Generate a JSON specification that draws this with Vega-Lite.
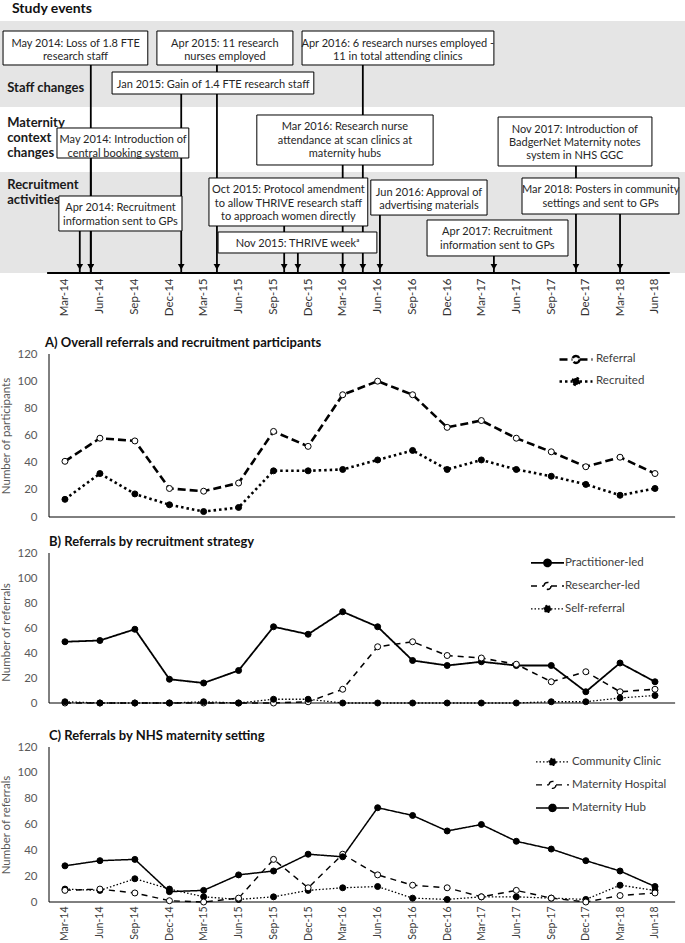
{
  "$schema": "https://vega.github.io/schema/vega-lite/v6.json",
  "padding": {"top": 2, "left": 0, "right": 0, "bottom": 0},
  "background": "white",
  "spacing": 36,
  "bounds": "flush",
  "config": {
    "view": {"stroke": null},
    "font": "Lato",
    "axis": {"grid": false},
    "mark": {"color": "black"}
  },
  "resolve": {
    "scale": {"x": "independent", "y": "independent", "fill": "independent", "strokeDash": "independent", "strokeWidth": "independent"},
    "legend": {"fill": "independent", "strokeDash": "independent"}
  },
  "datasets": {
    "lanes": [
      {"lane": "staff", "label": "Staff changes", "top": 0, "bottom": 34.13, "ly": 26.6},
      {"lane": "maternity", "label": "Maternity\ncontext\nchanges", "top": 34.13, "bottom": 59.92, "ly": 40.5},
      {"lane": "recruitment", "label": "Recruitment\nactivities", "top": 59.92, "bottom": 100, "ly": 65.1}
    ],
    "events": [
      {"label": "May 2014: Loss of 1.8 FTE\nresearch staff", "x1": "2013-09-19", "x2": "2014-10-05", "xm": "2014-03-29", "y1": 3.97, "y2": 17.46, "ym": 10.7, "arrow": "2014-05-08"},
      {"label": "Apr 2015: 11 research\nnurses employed", "x1": "2014-10-29", "x2": "2015-10-22", "xm": "2015-04-26", "y1": 3.97, "y2": 17.46, "ym": 10.7, "arrow": "2015-04-05"},
      {"label": "Apr 2016: 6 research nurses employed -\n11 in total attending clinics", "x1": "2015-11-15", "x2": "2017-04-03", "xm": "2016-07-24", "y1": 3.97, "y2": 17.46, "ym": 10.7, "arrow": "2016-04-23"},
      {"label": "Jan 2015: Gain of 1.4 FTE research staff", "x1": "2014-07-03", "x2": "2015-12-16", "xm": "2015-03-26", "y1": 20.24, "y2": 28.97, "ym": 24.6, "arrow": "2015-01-01"},
      {"label": "May 2014: Introduction of\ncentral booking system", "x1": "2014-02-08", "x2": "2015-01-21", "xm": "2014-08-01", "y1": 42.46, "y2": 54.37, "ym": 48.4, "arrow": "2014-05-08"},
      {"label": "Mar 2016: Research nurse\nattendance at scan clinics at\nmaternity hubs", "x1": "2015-07-19", "x2": "2016-10-25", "xm": "2016-03-07", "y1": 37.3, "y2": 57.14, "ym": 47.2, "arrow": "2016-03-01"},
      {"label": "Nov 2017: Introduction of\nBadgerNet Maternity notes\nsystem in NHS GGC", "x1": "2017-04-14", "x2": "2018-05-24", "xm": "2017-11-02", "y1": 38.1, "y2": 57.54, "ym": 47.8, "arrow": "2017-11-05"},
      {"label": "Apr 2014: Recruitment\ninformation sent to GPs", "x1": "2014-02-13", "x2": "2015-01-03", "xm": "2014-07-25", "y1": 69.44, "y2": 83.33, "ym": 76.4, "arrow": "2014-04-09"},
      {"label": "Oct 2015: Protocol amendment\nto allow THRIVE research staff\nto approach women directly", "x1": "2015-03-15", "x2": "2016-05-06", "xm": "2015-10-10", "y1": 62.3, "y2": 81.35, "ym": 71.8, "arrow": "2015-09-29"},
      {"label": "Nov 2015: THRIVE weekᵃ", "x1": "2015-04-08", "x2": "2016-05-30", "xm": "2015-11-03", "y1": 83.73, "y2": 92.06, "ym": 87.9, "arrow": "2015-11-04"},
      {"label": "Jun 2016: Approval of\nadvertising materials", "x1": "2016-05-14", "x2": "2017-03-16", "xm": "2016-10-14", "y1": 63.1, "y2": 77.0, "ym": 70.0, "arrow": "2016-06-07"},
      {"label": "Apr 2017: Recruitment\ninformation sent to GPs", "x1": "2016-10-09", "x2": "2017-10-15", "xm": "2017-04-12", "y1": 78.97, "y2": 93.25, "ym": 86.1, "arrow": "2017-04-03"},
      {"label": "Mar 2018: Posters in community\nsettings and sent to GPs", "x1": "2017-06-16", "x2": "2018-08-03", "xm": "2018-01-09", "y1": 62.3, "y2": 76.59, "ym": 69.4, "arrow": "2018-03-01"}
    ],
    "overall": [
      {"date": "2014-03-01", "series": "Referral", "value": 41}, {"date": "2014-06-01", "series": "Referral", "value": 58}, {"date": "2014-09-01", "series": "Referral", "value": 56}, {"date": "2014-12-01", "series": "Referral", "value": 21}, {"date": "2015-03-01", "series": "Referral", "value": 19}, {"date": "2015-06-01", "series": "Referral", "value": 25}, {"date": "2015-09-01", "series": "Referral", "value": 63}, {"date": "2015-12-01", "series": "Referral", "value": 52}, {"date": "2016-03-01", "series": "Referral", "value": 90}, {"date": "2016-06-01", "series": "Referral", "value": 100}, {"date": "2016-09-01", "series": "Referral", "value": 90}, {"date": "2016-12-01", "series": "Referral", "value": 66}, {"date": "2017-03-01", "series": "Referral", "value": 71}, {"date": "2017-06-01", "series": "Referral", "value": 58}, {"date": "2017-09-01", "series": "Referral", "value": 48}, {"date": "2017-12-01", "series": "Referral", "value": 37}, {"date": "2018-03-01", "series": "Referral", "value": 44}, {"date": "2018-06-01", "series": "Referral", "value": 32},
      {"date": "2014-03-01", "series": "Recruited", "value": 13}, {"date": "2014-06-01", "series": "Recruited", "value": 32}, {"date": "2014-09-01", "series": "Recruited", "value": 17}, {"date": "2014-12-01", "series": "Recruited", "value": 9}, {"date": "2015-03-01", "series": "Recruited", "value": 4}, {"date": "2015-06-01", "series": "Recruited", "value": 7}, {"date": "2015-09-01", "series": "Recruited", "value": 34}, {"date": "2015-12-01", "series": "Recruited", "value": 34}, {"date": "2016-03-01", "series": "Recruited", "value": 35}, {"date": "2016-06-01", "series": "Recruited", "value": 42}, {"date": "2016-09-01", "series": "Recruited", "value": 49}, {"date": "2016-12-01", "series": "Recruited", "value": 35}, {"date": "2017-03-01", "series": "Recruited", "value": 42}, {"date": "2017-06-01", "series": "Recruited", "value": 35}, {"date": "2017-09-01", "series": "Recruited", "value": 30}, {"date": "2017-12-01", "series": "Recruited", "value": 24}, {"date": "2018-03-01", "series": "Recruited", "value": 16}, {"date": "2018-06-01", "series": "Recruited", "value": 21}
    ],
    "strategy": [
      {"date": "2014-03-01", "series": "Practitioner-led", "value": 49}, {"date": "2014-06-01", "series": "Practitioner-led", "value": 50}, {"date": "2014-09-01", "series": "Practitioner-led", "value": 59}, {"date": "2014-12-01", "series": "Practitioner-led", "value": 19}, {"date": "2015-03-01", "series": "Practitioner-led", "value": 16}, {"date": "2015-06-01", "series": "Practitioner-led", "value": 26}, {"date": "2015-09-01", "series": "Practitioner-led", "value": 61}, {"date": "2015-12-01", "series": "Practitioner-led", "value": 55}, {"date": "2016-03-01", "series": "Practitioner-led", "value": 73}, {"date": "2016-06-01", "series": "Practitioner-led", "value": 61}, {"date": "2016-09-01", "series": "Practitioner-led", "value": 34}, {"date": "2016-12-01", "series": "Practitioner-led", "value": 30}, {"date": "2017-03-01", "series": "Practitioner-led", "value": 33}, {"date": "2017-06-01", "series": "Practitioner-led", "value": 30}, {"date": "2017-09-01", "series": "Practitioner-led", "value": 30}, {"date": "2017-12-01", "series": "Practitioner-led", "value": 9}, {"date": "2018-03-01", "series": "Practitioner-led", "value": 32}, {"date": "2018-06-01", "series": "Practitioner-led", "value": 17},
      {"date": "2014-03-01", "series": "Researcher-led", "value": 0}, {"date": "2014-06-01", "series": "Researcher-led", "value": 0}, {"date": "2014-09-01", "series": "Researcher-led", "value": 0}, {"date": "2014-12-01", "series": "Researcher-led", "value": 0}, {"date": "2015-03-01", "series": "Researcher-led", "value": 0}, {"date": "2015-06-01", "series": "Researcher-led", "value": 0}, {"date": "2015-09-01", "series": "Researcher-led", "value": 0}, {"date": "2015-12-01", "series": "Researcher-led", "value": 1}, {"date": "2016-03-01", "series": "Researcher-led", "value": 11}, {"date": "2016-06-01", "series": "Researcher-led", "value": 45}, {"date": "2016-09-01", "series": "Researcher-led", "value": 49}, {"date": "2016-12-01", "series": "Researcher-led", "value": 38}, {"date": "2017-03-01", "series": "Researcher-led", "value": 36}, {"date": "2017-06-01", "series": "Researcher-led", "value": 31}, {"date": "2017-09-01", "series": "Researcher-led", "value": 17}, {"date": "2017-12-01", "series": "Researcher-led", "value": 25}, {"date": "2018-03-01", "series": "Researcher-led", "value": 9}, {"date": "2018-06-01", "series": "Researcher-led", "value": 11},
      {"date": "2014-03-01", "series": "Self-referral", "value": 1}, {"date": "2014-06-01", "series": "Self-referral", "value": 0}, {"date": "2014-09-01", "series": "Self-referral", "value": 0}, {"date": "2014-12-01", "series": "Self-referral", "value": 0}, {"date": "2015-03-01", "series": "Self-referral", "value": 1}, {"date": "2015-06-01", "series": "Self-referral", "value": 0}, {"date": "2015-09-01", "series": "Self-referral", "value": 3}, {"date": "2015-12-01", "series": "Self-referral", "value": 3}, {"date": "2016-03-01", "series": "Self-referral", "value": 0}, {"date": "2016-06-01", "series": "Self-referral", "value": 0}, {"date": "2016-09-01", "series": "Self-referral", "value": 0}, {"date": "2016-12-01", "series": "Self-referral", "value": 0}, {"date": "2017-03-01", "series": "Self-referral", "value": 0}, {"date": "2017-06-01", "series": "Self-referral", "value": 0}, {"date": "2017-09-01", "series": "Self-referral", "value": 1}, {"date": "2017-12-01", "series": "Self-referral", "value": 1}, {"date": "2018-03-01", "series": "Self-referral", "value": 4}, {"date": "2018-06-01", "series": "Self-referral", "value": 6}
    ],
    "setting": [
      {"date": "2014-03-01", "series": "Community Clinic", "value": 10}, {"date": "2014-06-01", "series": "Community Clinic", "value": 9}, {"date": "2014-09-01", "series": "Community Clinic", "value": 18}, {"date": "2014-12-01", "series": "Community Clinic", "value": 10}, {"date": "2015-03-01", "series": "Community Clinic", "value": 4}, {"date": "2015-06-01", "series": "Community Clinic", "value": 2}, {"date": "2015-09-01", "series": "Community Clinic", "value": 4}, {"date": "2015-12-01", "series": "Community Clinic", "value": 9}, {"date": "2016-03-01", "series": "Community Clinic", "value": 11}, {"date": "2016-06-01", "series": "Community Clinic", "value": 12}, {"date": "2016-09-01", "series": "Community Clinic", "value": 3}, {"date": "2016-12-01", "series": "Community Clinic", "value": 2}, {"date": "2017-03-01", "series": "Community Clinic", "value": 4}, {"date": "2017-06-01", "series": "Community Clinic", "value": 4}, {"date": "2017-09-01", "series": "Community Clinic", "value": 3}, {"date": "2017-12-01", "series": "Community Clinic", "value": 2}, {"date": "2018-03-01", "series": "Community Clinic", "value": 13}, {"date": "2018-06-01", "series": "Community Clinic", "value": 9},
      {"date": "2014-03-01", "series": "Maternity Hospital", "value": 9}, {"date": "2014-06-01", "series": "Maternity Hospital", "value": 10}, {"date": "2014-09-01", "series": "Maternity Hospital", "value": 7}, {"date": "2014-12-01", "series": "Maternity Hospital", "value": 1}, {"date": "2015-03-01", "series": "Maternity Hospital", "value": 0}, {"date": "2015-06-01", "series": "Maternity Hospital", "value": 3}, {"date": "2015-09-01", "series": "Maternity Hospital", "value": 33}, {"date": "2015-12-01", "series": "Maternity Hospital", "value": 11}, {"date": "2016-03-01", "series": "Maternity Hospital", "value": 37}, {"date": "2016-06-01", "series": "Maternity Hospital", "value": 21}, {"date": "2016-09-01", "series": "Maternity Hospital", "value": 13}, {"date": "2016-12-01", "series": "Maternity Hospital", "value": 11}, {"date": "2017-03-01", "series": "Maternity Hospital", "value": 4}, {"date": "2017-06-01", "series": "Maternity Hospital", "value": 9}, {"date": "2017-09-01", "series": "Maternity Hospital", "value": 3}, {"date": "2017-12-01", "series": "Maternity Hospital", "value": 0}, {"date": "2018-03-01", "series": "Maternity Hospital", "value": 5}, {"date": "2018-06-01", "series": "Maternity Hospital", "value": 7},
      {"date": "2014-03-01", "series": "Maternity Hub", "value": 28}, {"date": "2014-06-01", "series": "Maternity Hub", "value": 32}, {"date": "2014-09-01", "series": "Maternity Hub", "value": 33}, {"date": "2014-12-01", "series": "Maternity Hub", "value": 8}, {"date": "2015-03-01", "series": "Maternity Hub", "value": 9}, {"date": "2015-06-01", "series": "Maternity Hub", "value": 21}, {"date": "2015-09-01", "series": "Maternity Hub", "value": 24}, {"date": "2015-12-01", "series": "Maternity Hub", "value": 37}, {"date": "2016-03-01", "series": "Maternity Hub", "value": 35}, {"date": "2016-06-01", "series": "Maternity Hub", "value": 73}, {"date": "2016-09-01", "series": "Maternity Hub", "value": 67}, {"date": "2016-12-01", "series": "Maternity Hub", "value": 55}, {"date": "2017-03-01", "series": "Maternity Hub", "value": 60}, {"date": "2017-06-01", "series": "Maternity Hub", "value": 47}, {"date": "2017-09-01", "series": "Maternity Hub", "value": 41}, {"date": "2017-12-01", "series": "Maternity Hub", "value": 32}, {"date": "2018-03-01", "series": "Maternity Hub", "value": 24}, {"date": "2018-06-01", "series": "Maternity Hub", "value": 12}
    ]
  },
  "vconcat": [
    {
      "width": 685,
      "height": 297,
      "title": {"text": "Study events", "anchor": "start", "frame": "group", "dx": 12, "offset": 5, "fontSize": 14, "fontWeight": "bold", "font": "Lato", "color": "#111111"},
      "layer": [
        {
          "data": {"name": "lanes"},
          "mark": {"type": "rect"},
          "encoding": {
            "x": {"value": 0},
            "x2": {"value": "width"},
            "y": {"field": "top", "type": "quantitative", "scale": {"domain": [0, 117.86], "reverse": true, "nice": false, "zero": false}, "axis": null},
            "y2": {"field": "bottom"},
            "fill": {"field": "lane", "type": "nominal", "scale": {"domain": ["staff", "maternity", "recruitment"], "range": ["#e5e5e5", "#ffffff", "#e5e5e5"]}, "legend": null}
          }
        },
        {
          "data": {"name": "lanes"},
          "mark": {"type": "text", "align": "left", "baseline": "middle", "font": "Lato", "fontWeight": "bold", "fontSize": 13, "lineBreak": "\n", "lineHeight": 15, "color": "#1a1a1a"},
          "encoding": {
            "x": {"datum": {"year": 2013, "month": 9, "date": 30, "utc": true}, "type": "temporal", "scale": {"type": "utc", "domain": [{"year": 2013, "month": 9, "date": 11, "utc": true}, {"year": 2018, "month": 8, "date": 19, "utc": true}], "nice": false},
              "axis": {"values": [{"year": 2014, "month": 3, "date": 1, "utc": true}, {"year": 2014, "month": 6, "date": 1, "utc": true}, {"year": 2014, "month": 9, "date": 1, "utc": true}, {"year": 2014, "month": 12, "date": 1, "utc": true}, {"year": 2015, "month": 3, "date": 1, "utc": true}, {"year": 2015, "month": 6, "date": 1, "utc": true}, {"year": 2015, "month": 9, "date": 1, "utc": true}, {"year": 2015, "month": 12, "date": 1, "utc": true}, {"year": 2016, "month": 3, "date": 1, "utc": true}, {"year": 2016, "month": 6, "date": 1, "utc": true}, {"year": 2016, "month": 9, "date": 1, "utc": true}, {"year": 2016, "month": 12, "date": 1, "utc": true}, {"year": 2017, "month": 3, "date": 1, "utc": true}, {"year": 2017, "month": 6, "date": 1, "utc": true}, {"year": 2017, "month": 9, "date": 1, "utc": true}, {"year": 2017, "month": 12, "date": 1, "utc": true}, {"year": 2018, "month": 3, "date": 1, "utc": true}, {"year": 2018, "month": 6, "date": 1, "utc": true}], "labelExpr": "utcFormat(datum.value, '%b-%y')", "orient": "bottom", "offset": -45, "labelAngle": 270, "labelPadding": 5, "domain": false, "ticks": false, "grid": false, "title": null, "labelFont": "Lato", "labelFontSize": 11.5, "labelColor": "#333333", "labelFlush": false, "labelOverlap": false}},
            "y": {"field": "ly", "type": "quantitative", "scale": {"domain": [0, 117.86], "reverse": true, "nice": false, "zero": false}, "axis": null},
            "text": {"field": "label"}
          }
        },
        {
          "data": {"values": [{}]},
          "mark": {"type": "rule", "color": "black", "strokeWidth": 2},
          "encoding": {
            "x": {"datum": {"year": 2014, "month": 1, "date": 13, "utc": true}, "type": "temporal", "scale": {"type": "utc", "domain": [{"year": 2013, "month": 9, "date": 11, "utc": true}, {"year": 2018, "month": 8, "date": 19, "utc": true}], "nice": false},
              "axis": {"values": [{"year": 2014, "month": 3, "date": 1, "utc": true}, {"year": 2014, "month": 6, "date": 1, "utc": true}, {"year": 2014, "month": 9, "date": 1, "utc": true}, {"year": 2014, "month": 12, "date": 1, "utc": true}, {"year": 2015, "month": 3, "date": 1, "utc": true}, {"year": 2015, "month": 6, "date": 1, "utc": true}, {"year": 2015, "month": 9, "date": 1, "utc": true}, {"year": 2015, "month": 12, "date": 1, "utc": true}, {"year": 2016, "month": 3, "date": 1, "utc": true}, {"year": 2016, "month": 6, "date": 1, "utc": true}, {"year": 2016, "month": 9, "date": 1, "utc": true}, {"year": 2016, "month": 12, "date": 1, "utc": true}, {"year": 2017, "month": 3, "date": 1, "utc": true}, {"year": 2017, "month": 6, "date": 1, "utc": true}, {"year": 2017, "month": 9, "date": 1, "utc": true}, {"year": 2017, "month": 12, "date": 1, "utc": true}, {"year": 2018, "month": 3, "date": 1, "utc": true}, {"year": 2018, "month": 6, "date": 1, "utc": true}], "labelExpr": "utcFormat(datum.value, '%b-%y')", "orient": "bottom", "offset": -45, "labelAngle": 270, "labelPadding": 5, "domain": false, "ticks": false, "grid": false, "title": null, "labelFont": "Lato", "labelFontSize": 11.5, "labelColor": "#333333", "labelFlush": false, "labelOverlap": false}},
            "x2": {"datum": {"year": 2018, "month": 7, "date": 10, "utc": true}},
            "y": {"datum": 100, "type": "quantitative", "scale": {"domain": [0, 117.86], "reverse": true, "nice": false, "zero": false}, "axis": null}
          }
        },
        {
          "data": {"name": "events", "format": {"parse": {"x1": "date", "x2": "date", "xm": "date", "arrow": "date"}}},
          "mark": {"type": "rule", "color": "black", "strokeWidth": 1.8},
          "encoding": {
            "x": {"field": "arrow", "type": "temporal", "scale": {"type": "utc", "domain": [{"year": 2013, "month": 9, "date": 11, "utc": true}, {"year": 2018, "month": 8, "date": 19, "utc": true}], "nice": false},
              "axis": {"values": [{"year": 2014, "month": 3, "date": 1, "utc": true}, {"year": 2014, "month": 6, "date": 1, "utc": true}, {"year": 2014, "month": 9, "date": 1, "utc": true}, {"year": 2014, "month": 12, "date": 1, "utc": true}, {"year": 2015, "month": 3, "date": 1, "utc": true}, {"year": 2015, "month": 6, "date": 1, "utc": true}, {"year": 2015, "month": 9, "date": 1, "utc": true}, {"year": 2015, "month": 12, "date": 1, "utc": true}, {"year": 2016, "month": 3, "date": 1, "utc": true}, {"year": 2016, "month": 6, "date": 1, "utc": true}, {"year": 2016, "month": 9, "date": 1, "utc": true}, {"year": 2016, "month": 12, "date": 1, "utc": true}, {"year": 2017, "month": 3, "date": 1, "utc": true}, {"year": 2017, "month": 6, "date": 1, "utc": true}, {"year": 2017, "month": 9, "date": 1, "utc": true}, {"year": 2017, "month": 12, "date": 1, "utc": true}, {"year": 2018, "month": 3, "date": 1, "utc": true}, {"year": 2018, "month": 6, "date": 1, "utc": true}], "labelExpr": "utcFormat(datum.value, '%b-%y')", "orient": "bottom", "offset": -45, "labelAngle": 270, "labelPadding": 5, "domain": false, "ticks": false, "grid": false, "title": null, "labelFont": "Lato", "labelFontSize": 11.5, "labelColor": "#333333", "labelFlush": false, "labelOverlap": false}},
            "y": {"field": "ym", "type": "quantitative", "scale": {"domain": [0, 117.86], "reverse": true, "nice": false, "zero": false}, "axis": null},
            "y2": {"datum": 100}
          }
        },
        {
          "data": {"name": "events", "format": {"parse": {"x1": "date", "x2": "date", "xm": "date", "arrow": "date"}}},
          "mark": {"type": "point", "shape": "triangle-down", "filled": true, "color": "black", "size": 45, "opacity": 1},
          "encoding": {
            "x": {"field": "arrow", "type": "temporal", "scale": {"type": "utc", "domain": [{"year": 2013, "month": 9, "date": 11, "utc": true}, {"year": 2018, "month": 8, "date": 19, "utc": true}], "nice": false},
              "axis": {"values": [{"year": 2014, "month": 3, "date": 1, "utc": true}, {"year": 2014, "month": 6, "date": 1, "utc": true}, {"year": 2014, "month": 9, "date": 1, "utc": true}, {"year": 2014, "month": 12, "date": 1, "utc": true}, {"year": 2015, "month": 3, "date": 1, "utc": true}, {"year": 2015, "month": 6, "date": 1, "utc": true}, {"year": 2015, "month": 9, "date": 1, "utc": true}, {"year": 2015, "month": 12, "date": 1, "utc": true}, {"year": 2016, "month": 3, "date": 1, "utc": true}, {"year": 2016, "month": 6, "date": 1, "utc": true}, {"year": 2016, "month": 9, "date": 1, "utc": true}, {"year": 2016, "month": 12, "date": 1, "utc": true}, {"year": 2017, "month": 3, "date": 1, "utc": true}, {"year": 2017, "month": 6, "date": 1, "utc": true}, {"year": 2017, "month": 9, "date": 1, "utc": true}, {"year": 2017, "month": 12, "date": 1, "utc": true}, {"year": 2018, "month": 3, "date": 1, "utc": true}, {"year": 2018, "month": 6, "date": 1, "utc": true}], "labelExpr": "utcFormat(datum.value, '%b-%y')", "orient": "bottom", "offset": -45, "labelAngle": 270, "labelPadding": 5, "domain": false, "ticks": false, "grid": false, "title": null, "labelFont": "Lato", "labelFontSize": 11.5, "labelColor": "#333333", "labelFlush": false, "labelOverlap": false}},
            "y": {"datum": 97.6, "type": "quantitative", "scale": {"domain": [0, 117.86], "reverse": true, "nice": false, "zero": false}, "axis": null}
          }
        },
        {
          "data": {"name": "events", "format": {"parse": {"x1": "date", "x2": "date", "xm": "date", "arrow": "date"}}},
          "mark": {"type": "rect", "fill": "white", "stroke": "black", "strokeWidth": 1},
          "encoding": {
            "x": {"field": "x1", "type": "temporal", "scale": {"type": "utc", "domain": [{"year": 2013, "month": 9, "date": 11, "utc": true}, {"year": 2018, "month": 8, "date": 19, "utc": true}], "nice": false},
              "axis": {"values": [{"year": 2014, "month": 3, "date": 1, "utc": true}, {"year": 2014, "month": 6, "date": 1, "utc": true}, {"year": 2014, "month": 9, "date": 1, "utc": true}, {"year": 2014, "month": 12, "date": 1, "utc": true}, {"year": 2015, "month": 3, "date": 1, "utc": true}, {"year": 2015, "month": 6, "date": 1, "utc": true}, {"year": 2015, "month": 9, "date": 1, "utc": true}, {"year": 2015, "month": 12, "date": 1, "utc": true}, {"year": 2016, "month": 3, "date": 1, "utc": true}, {"year": 2016, "month": 6, "date": 1, "utc": true}, {"year": 2016, "month": 9, "date": 1, "utc": true}, {"year": 2016, "month": 12, "date": 1, "utc": true}, {"year": 2017, "month": 3, "date": 1, "utc": true}, {"year": 2017, "month": 6, "date": 1, "utc": true}, {"year": 2017, "month": 9, "date": 1, "utc": true}, {"year": 2017, "month": 12, "date": 1, "utc": true}, {"year": 2018, "month": 3, "date": 1, "utc": true}, {"year": 2018, "month": 6, "date": 1, "utc": true}], "labelExpr": "utcFormat(datum.value, '%b-%y')", "orient": "bottom", "offset": -45, "labelAngle": 270, "labelPadding": 5, "domain": false, "ticks": false, "grid": false, "title": null, "labelFont": "Lato", "labelFontSize": 11.5, "labelColor": "#333333", "labelFlush": false, "labelOverlap": false}},
            "x2": {"field": "x2"},
            "y": {"field": "y1", "type": "quantitative", "scale": {"domain": [0, 117.86], "reverse": true, "nice": false, "zero": false}, "axis": null},
            "y2": {"field": "y2"}
          }
        },
        {
          "data": {"name": "events", "format": {"parse": {"x1": "date", "x2": "date", "xm": "date", "arrow": "date"}}},
          "mark": {"type": "text", "align": "center", "baseline": "top", "dy": 6.5, "font": "Lato", "fontSize": 11, "lineBreak": "\n", "lineHeight": 13.3, "color": "#262626"},
          "encoding": {
            "x": {"field": "xm", "type": "temporal", "scale": {"type": "utc", "domain": [{"year": 2013, "month": 9, "date": 11, "utc": true}, {"year": 2018, "month": 8, "date": 19, "utc": true}], "nice": false},
              "axis": {"values": [{"year": 2014, "month": 3, "date": 1, "utc": true}, {"year": 2014, "month": 6, "date": 1, "utc": true}, {"year": 2014, "month": 9, "date": 1, "utc": true}, {"year": 2014, "month": 12, "date": 1, "utc": true}, {"year": 2015, "month": 3, "date": 1, "utc": true}, {"year": 2015, "month": 6, "date": 1, "utc": true}, {"year": 2015, "month": 9, "date": 1, "utc": true}, {"year": 2015, "month": 12, "date": 1, "utc": true}, {"year": 2016, "month": 3, "date": 1, "utc": true}, {"year": 2016, "month": 6, "date": 1, "utc": true}, {"year": 2016, "month": 9, "date": 1, "utc": true}, {"year": 2016, "month": 12, "date": 1, "utc": true}, {"year": 2017, "month": 3, "date": 1, "utc": true}, {"year": 2017, "month": 6, "date": 1, "utc": true}, {"year": 2017, "month": 9, "date": 1, "utc": true}, {"year": 2017, "month": 12, "date": 1, "utc": true}, {"year": 2018, "month": 3, "date": 1, "utc": true}, {"year": 2018, "month": 6, "date": 1, "utc": true}], "labelExpr": "utcFormat(datum.value, '%b-%y')", "orient": "bottom", "offset": -45, "labelAngle": 270, "labelPadding": 5, "domain": false, "ticks": false, "grid": false, "title": null, "labelFont": "Lato", "labelFontSize": 11.5, "labelColor": "#333333", "labelFlush": false, "labelOverlap": false}},
            "y": {"field": "y1", "type": "quantitative", "scale": {"domain": [0, 117.86], "reverse": true, "nice": false, "zero": false}, "axis": null},
            "text": {"field": "label"}
          }
        }
      ]
    },
    {
      "width": 685,
      "height": 163,
      "title": {"text": "A) Overall referrals and recruitment participants", "anchor": "start", "frame": "group", "dx": 45, "offset": -2, "fontSize": 13, "fontWeight": "bold", "font": "Lato", "color": "#111111"},
      "layer": [
        {
          "data": {"values": [{}]},
          "mark": {"type": "rule", "color": "black", "strokeWidth": 1},
          "encoding": {
            "x": {"datum": {"year": 2014, "month": 1, "date": 18, "utc": true}, "type": "temporal", "scale": {"type": "utc", "domain": [{"year": 2013, "month": 9, "date": 11, "utc": true}, {"year": 2018, "month": 8, "date": 19, "utc": true}], "nice": false}, "axis": null},
            "y": {"datum": 0, "type": "quantitative", "scale": {"domain": [0, 120], "nice": false, "zero": false},
              "axis": {"values": [0, 20, 40, 60, 80, 100, 120], "offset": -49, "domain": false, "ticks": false, "grid": false, "labelPadding": 12, "labelFont": "Lato", "labelFontSize": 11.5, "labelColor": "#595959", "labelFlush": false, "title": "Number of participants", "titleFont": "Lato", "titleFontSize": 11.5, "titleFontWeight": "normal", "titleColor": "#595959", "titlePadding": 5}},
            "y2": {"datum": 120}
          }
        },
        {
          "data": {"values": [{}]},
          "mark": {"type": "rule", "color": "black", "strokeWidth": 1},
          "encoding": {
            "x": {"datum": {"year": 2014, "month": 1, "date": 18, "utc": true}, "type": "temporal", "scale": {"type": "utc", "domain": [{"year": 2013, "month": 9, "date": 11, "utc": true}, {"year": 2018, "month": 8, "date": 19, "utc": true}], "nice": false}, "axis": null},
            "x2": {"datum": {"year": 2018, "month": 7, "date": 24, "utc": true}},
            "y": {"datum": 0, "type": "quantitative", "scale": {"domain": [0, 120], "nice": false, "zero": false},
              "axis": {"values": [0, 20, 40, 60, 80, 100, 120], "offset": -49, "domain": false, "ticks": false, "grid": false, "labelPadding": 12, "labelFont": "Lato", "labelFontSize": 11.5, "labelColor": "#595959", "labelFlush": false, "title": "Number of participants", "titleFont": "Lato", "titleFontSize": 11.5, "titleFontWeight": "normal", "titleColor": "#595959", "titlePadding": 5}}
          }
        },
        {
          "data": {"name": "overall", "format": {"parse": {"date": "date"}}},
          "mark": {"type": "line", "color": "black", "strokeWidth": 2.6},
          "encoding": {
            "x": {"field": "date", "type": "temporal", "scale": {"type": "utc", "domain": [{"year": 2013, "month": 9, "date": 11, "utc": true}, {"year": 2018, "month": 8, "date": 19, "utc": true}], "nice": false}, "axis": null},
            "y": {"field": "value", "type": "quantitative", "scale": {"domain": [0, 120], "nice": false, "zero": false},
              "axis": {"values": [0, 20, 40, 60, 80, 100, 120], "offset": -49, "domain": false, "ticks": false, "grid": false, "labelPadding": 12, "labelFont": "Lato", "labelFontSize": 11.5, "labelColor": "#595959", "labelFlush": false, "title": "Number of participants", "titleFont": "Lato", "titleFontSize": 11.5, "titleFontWeight": "normal", "titleColor": "#595959", "titlePadding": 5}},
            "strokeDash": {"field": "series", "type": "nominal", "scale": {"domain": ["Referral", "Recruited"], "range": [[8, 4], [2.5, 3]]},
              "legend": {"orient": "none", "legendX": 568, "legendY": -2.6, "title": null, "symbolType": "M-2.5,0H-0.53M0.53,0H2.5M0.53,0A0.53,0.53,0,1,1,-0.53,0A0.53,0.53,0,1,1,0.53,0Z", "symbolSize": 174, "symbolStrokeColor": "black", "symbolStrokeWidth": 2.5, "rowPadding": 4, "labelOffset": 12, "labelFont": "Lato", "labelFontSize": 11.5, "labelColor": "#404040", "padding": 0}}
          }
        },
        {
          "data": {"name": "overall", "format": {"parse": {"date": "date"}}},
          "mark": {"type": "point", "shape": "circle", "filled": true, "size": 36, "stroke": "black", "strokeWidth": 1, "opacity": 1},
          "encoding": {
            "x": {"field": "date", "type": "temporal", "scale": {"type": "utc", "domain": [{"year": 2013, "month": 9, "date": 11, "utc": true}, {"year": 2018, "month": 8, "date": 19, "utc": true}], "nice": false}, "axis": null},
            "y": {"field": "value", "type": "quantitative", "scale": {"domain": [0, 120], "nice": false, "zero": false},
              "axis": {"values": [0, 20, 40, 60, 80, 100, 120], "offset": -49, "domain": false, "ticks": false, "grid": false, "labelPadding": 12, "labelFont": "Lato", "labelFontSize": 11.5, "labelColor": "#595959", "labelFlush": false, "title": "Number of participants", "titleFont": "Lato", "titleFontSize": 11.5, "titleFontWeight": "normal", "titleColor": "#595959", "titlePadding": 5}},
            "fill": {"field": "series", "type": "nominal", "scale": {"domain": ["Referral", "Recruited"], "range": ["white", "black"]},
              "legend": {"orient": "none", "legendX": 568, "legendY": -2.6, "title": null, "symbolType": "M-2.5,0H-0.53M0.53,0H2.5M0.53,0A0.53,0.53,0,1,1,-0.53,0A0.53,0.53,0,1,1,0.53,0Z", "symbolSize": 174, "symbolStrokeColor": "black", "symbolStrokeWidth": 2.5, "rowPadding": 4, "labelOffset": 12, "labelFont": "Lato", "labelFontSize": 11.5, "labelColor": "#404040", "padding": 0}}
          }
        }
      ]
    },
    {
      "width": 685,
      "height": 158,
      "title": {"text": "B) Referrals by recruitment strategy", "anchor": "start", "frame": "group", "dx": 49, "offset": -2, "fontSize": 13, "fontWeight": "bold", "font": "Lato", "color": "#111111"},
      "layer": [
        {
          "data": {"values": [{}]},
          "mark": {"type": "rule", "color": "black", "strokeWidth": 1},
          "encoding": {
            "x": {"datum": {"year": 2014, "month": 1, "date": 18, "utc": true}, "type": "temporal", "scale": {"type": "utc", "domain": [{"year": 2013, "month": 9, "date": 11, "utc": true}, {"year": 2018, "month": 8, "date": 19, "utc": true}], "nice": false}, "axis": null},
            "y": {"datum": 0, "type": "quantitative", "scale": {"domain": [-6.4, 120], "nice": false, "zero": false},
              "axis": {"values": [0, 20, 40, 60, 80, 100, 120], "offset": -49, "domain": false, "ticks": false, "grid": false, "labelPadding": 12, "labelFont": "Lato", "labelFontSize": 11.5, "labelColor": "#595959", "labelFlush": false, "title": "Number of referrals", "titleFont": "Lato", "titleFontSize": 11.5, "titleFontWeight": "normal", "titleColor": "#595959", "titlePadding": 5}},
            "y2": {"datum": 120}
          }
        },
        {
          "data": {"values": [{}]},
          "mark": {"type": "rule", "color": "black", "strokeWidth": 1},
          "encoding": {
            "x": {"datum": {"year": 2014, "month": 1, "date": 18, "utc": true}, "type": "temporal", "scale": {"type": "utc", "domain": [{"year": 2013, "month": 9, "date": 11, "utc": true}, {"year": 2018, "month": 8, "date": 19, "utc": true}], "nice": false}, "axis": null},
            "x2": {"datum": {"year": 2018, "month": 7, "date": 24, "utc": true}},
            "y": {"datum": 0, "type": "quantitative", "scale": {"domain": [-6.4, 120], "nice": false, "zero": false},
              "axis": {"values": [0, 20, 40, 60, 80, 100, 120], "offset": -49, "domain": false, "ticks": false, "grid": false, "labelPadding": 12, "labelFont": "Lato", "labelFontSize": 11.5, "labelColor": "#595959", "labelFlush": false, "title": "Number of referrals", "titleFont": "Lato", "titleFontSize": 11.5, "titleFontWeight": "normal", "titleColor": "#595959", "titlePadding": 5}}
          }
        },
        {
          "data": {"name": "strategy", "format": {"parse": {"date": "date"}}},
          "mark": {"type": "line", "color": "black"},
          "encoding": {
            "x": {"field": "date", "type": "temporal", "scale": {"type": "utc", "domain": [{"year": 2013, "month": 9, "date": 11, "utc": true}, {"year": 2018, "month": 8, "date": 19, "utc": true}], "nice": false}, "axis": null},
            "y": {"field": "value", "type": "quantitative", "scale": {"domain": [-6.4, 120], "nice": false, "zero": false},
              "axis": {"values": [0, 20, 40, 60, 80, 100, 120], "offset": -49, "domain": false, "ticks": false, "grid": false, "labelPadding": 12, "labelFont": "Lato", "labelFontSize": 11.5, "labelColor": "#595959", "labelFlush": false, "title": "Number of referrals", "titleFont": "Lato", "titleFontSize": 11.5, "titleFontWeight": "normal", "titleColor": "#595959", "titlePadding": 5}},
            "strokeWidth": {"field": "series", "type": "ordinal", "scale": {"domain": ["Practitioner-led", "Researcher-led", "Self-referral"], "range": [1.8, 1.3, 1.3]}, "legend": null},
            "strokeDash": {"field": "series", "type": "nominal", "scale": {"domain": ["Practitioner-led", "Researcher-led", "Self-referral"], "range": [[1, 0], [6, 5], [1.5, 2]]},
              "legend": {"orient": "none", "legendX": 540, "legendY": 2.4, "title": null, "symbolType": "M-2.5,0H-0.53M0.53,0H2.5M0.53,0A0.53,0.53,0,1,1,-0.53,0A0.53,0.53,0,1,1,0.53,0Z", "symbolSize": 174, "symbolStrokeColor": "black", "symbolStrokeWidth": 1.8, "rowPadding": 8, "labelOffset": 10, "labelFont": "Lato", "labelFontSize": 11.5, "labelColor": "#404040", "padding": 0}}
          }
        },
        {
          "data": {"name": "strategy", "format": {"parse": {"date": "date"}}},
          "mark": {"type": "point", "shape": "circle", "filled": true, "size": 36, "stroke": "black", "strokeWidth": 1, "opacity": 1},
          "encoding": {
            "x": {"field": "date", "type": "temporal", "scale": {"type": "utc", "domain": [{"year": 2013, "month": 9, "date": 11, "utc": true}, {"year": 2018, "month": 8, "date": 19, "utc": true}], "nice": false}, "axis": null},
            "y": {"field": "value", "type": "quantitative", "scale": {"domain": [-6.4, 120], "nice": false, "zero": false},
              "axis": {"values": [0, 20, 40, 60, 80, 100, 120], "offset": -49, "domain": false, "ticks": false, "grid": false, "labelPadding": 12, "labelFont": "Lato", "labelFontSize": 11.5, "labelColor": "#595959", "labelFlush": false, "title": "Number of referrals", "titleFont": "Lato", "titleFontSize": 11.5, "titleFontWeight": "normal", "titleColor": "#595959", "titlePadding": 5}},
            "fill": {"field": "series", "type": "nominal", "scale": {"domain": ["Practitioner-led", "Researcher-led", "Self-referral"], "range": ["black", "white", "black"]},
              "legend": {"orient": "none", "legendX": 540, "legendY": 2.4, "title": null, "symbolType": "M-2.5,0H-0.53M0.53,0H2.5M0.53,0A0.53,0.53,0,1,1,-0.53,0A0.53,0.53,0,1,1,0.53,0Z", "symbolSize": 174, "symbolStrokeColor": "black", "symbolStrokeWidth": 1.8, "rowPadding": 8, "labelOffset": 10, "labelFont": "Lato", "labelFontSize": 11.5, "labelColor": "#404040", "padding": 0}}
          }
        }
      ]
    },
    {
      "width": 685,
      "height": 155,
      "title": {"text": "C) Referrals by NHS maternity setting", "anchor": "start", "frame": "group", "dx": 49, "offset": -2, "fontSize": 13, "fontWeight": "bold", "font": "Lato", "color": "#111111"},
      "layer": [
        {
          "data": {"values": [{}]},
          "mark": {"type": "rule", "color": "black", "strokeWidth": 1},
          "encoding": {
            "x": {"datum": {"year": 2014, "month": 1, "date": 18, "utc": true}, "type": "temporal", "scale": {"type": "utc", "domain": [{"year": 2013, "month": 9, "date": 11, "utc": true}, {"year": 2018, "month": 8, "date": 19, "utc": true}], "nice": false},
              "axis": {"values": [{"year": 2014, "month": 3, "date": 1, "utc": true}, {"year": 2014, "month": 6, "date": 1, "utc": true}, {"year": 2014, "month": 9, "date": 1, "utc": true}, {"year": 2014, "month": 12, "date": 1, "utc": true}, {"year": 2015, "month": 3, "date": 1, "utc": true}, {"year": 2015, "month": 6, "date": 1, "utc": true}, {"year": 2015, "month": 9, "date": 1, "utc": true}, {"year": 2015, "month": 12, "date": 1, "utc": true}, {"year": 2016, "month": 3, "date": 1, "utc": true}, {"year": 2016, "month": 6, "date": 1, "utc": true}, {"year": 2016, "month": 9, "date": 1, "utc": true}, {"year": 2016, "month": 12, "date": 1, "utc": true}, {"year": 2017, "month": 3, "date": 1, "utc": true}, {"year": 2017, "month": 6, "date": 1, "utc": true}, {"year": 2017, "month": 9, "date": 1, "utc": true}, {"year": 2017, "month": 12, "date": 1, "utc": true}, {"year": 2018, "month": 3, "date": 1, "utc": true}, {"year": 2018, "month": 6, "date": 1, "utc": true}], "labelExpr": "utcFormat(datum.value, '%b-%y')", "labelAngle": 270, "labelPadding": 4, "domain": false, "ticks": false, "grid": false, "title": null, "labelFont": "Lato", "labelFontSize": 10.5, "labelColor": "#404040", "labelFlush": false, "labelOverlap": false}},
            "y": {"datum": 0, "type": "quantitative", "scale": {"domain": [0, 120], "nice": false, "zero": false},
              "axis": {"values": [0, 20, 40, 60, 80, 100, 120], "offset": -49, "domain": false, "ticks": false, "grid": false, "labelPadding": 12, "labelFont": "Lato", "labelFontSize": 11.5, "labelColor": "#595959", "labelFlush": false, "title": "Number of referrals", "titleFont": "Lato", "titleFontSize": 11.5, "titleFontWeight": "normal", "titleColor": "#595959", "titlePadding": 5}},
            "y2": {"datum": 120}
          }
        },
        {
          "data": {"values": [{}]},
          "mark": {"type": "rule", "color": "black", "strokeWidth": 1},
          "encoding": {
            "x": {"datum": {"year": 2014, "month": 1, "date": 18, "utc": true}, "type": "temporal", "scale": {"type": "utc", "domain": [{"year": 2013, "month": 9, "date": 11, "utc": true}, {"year": 2018, "month": 8, "date": 19, "utc": true}], "nice": false},
              "axis": {"values": [{"year": 2014, "month": 3, "date": 1, "utc": true}, {"year": 2014, "month": 6, "date": 1, "utc": true}, {"year": 2014, "month": 9, "date": 1, "utc": true}, {"year": 2014, "month": 12, "date": 1, "utc": true}, {"year": 2015, "month": 3, "date": 1, "utc": true}, {"year": 2015, "month": 6, "date": 1, "utc": true}, {"year": 2015, "month": 9, "date": 1, "utc": true}, {"year": 2015, "month": 12, "date": 1, "utc": true}, {"year": 2016, "month": 3, "date": 1, "utc": true}, {"year": 2016, "month": 6, "date": 1, "utc": true}, {"year": 2016, "month": 9, "date": 1, "utc": true}, {"year": 2016, "month": 12, "date": 1, "utc": true}, {"year": 2017, "month": 3, "date": 1, "utc": true}, {"year": 2017, "month": 6, "date": 1, "utc": true}, {"year": 2017, "month": 9, "date": 1, "utc": true}, {"year": 2017, "month": 12, "date": 1, "utc": true}, {"year": 2018, "month": 3, "date": 1, "utc": true}, {"year": 2018, "month": 6, "date": 1, "utc": true}], "labelExpr": "utcFormat(datum.value, '%b-%y')", "labelAngle": 270, "labelPadding": 4, "domain": false, "ticks": false, "grid": false, "title": null, "labelFont": "Lato", "labelFontSize": 10.5, "labelColor": "#404040", "labelFlush": false, "labelOverlap": false}},
            "x2": {"datum": {"year": 2018, "month": 7, "date": 24, "utc": true}},
            "y": {"datum": 0, "type": "quantitative", "scale": {"domain": [0, 120], "nice": false, "zero": false},
              "axis": {"values": [0, 20, 40, 60, 80, 100, 120], "offset": -49, "domain": false, "ticks": false, "grid": false, "labelPadding": 12, "labelFont": "Lato", "labelFontSize": 11.5, "labelColor": "#595959", "labelFlush": false, "title": "Number of referrals", "titleFont": "Lato", "titleFontSize": 11.5, "titleFontWeight": "normal", "titleColor": "#595959", "titlePadding": 5}}
          }
        },
        {
          "data": {"name": "setting", "format": {"parse": {"date": "date"}}},
          "mark": {"type": "line", "color": "black"},
          "encoding": {
            "x": {"field": "date", "type": "temporal", "scale": {"type": "utc", "domain": [{"year": 2013, "month": 9, "date": 11, "utc": true}, {"year": 2018, "month": 8, "date": 19, "utc": true}], "nice": false},
              "axis": {"values": [{"year": 2014, "month": 3, "date": 1, "utc": true}, {"year": 2014, "month": 6, "date": 1, "utc": true}, {"year": 2014, "month": 9, "date": 1, "utc": true}, {"year": 2014, "month": 12, "date": 1, "utc": true}, {"year": 2015, "month": 3, "date": 1, "utc": true}, {"year": 2015, "month": 6, "date": 1, "utc": true}, {"year": 2015, "month": 9, "date": 1, "utc": true}, {"year": 2015, "month": 12, "date": 1, "utc": true}, {"year": 2016, "month": 3, "date": 1, "utc": true}, {"year": 2016, "month": 6, "date": 1, "utc": true}, {"year": 2016, "month": 9, "date": 1, "utc": true}, {"year": 2016, "month": 12, "date": 1, "utc": true}, {"year": 2017, "month": 3, "date": 1, "utc": true}, {"year": 2017, "month": 6, "date": 1, "utc": true}, {"year": 2017, "month": 9, "date": 1, "utc": true}, {"year": 2017, "month": 12, "date": 1, "utc": true}, {"year": 2018, "month": 3, "date": 1, "utc": true}, {"year": 2018, "month": 6, "date": 1, "utc": true}], "labelExpr": "utcFormat(datum.value, '%b-%y')", "labelAngle": 270, "labelPadding": 4, "domain": false, "ticks": false, "grid": false, "title": null, "labelFont": "Lato", "labelFontSize": 10.5, "labelColor": "#404040", "labelFlush": false, "labelOverlap": false}},
            "y": {"field": "value", "type": "quantitative", "scale": {"domain": [0, 120], "nice": false, "zero": false},
              "axis": {"values": [0, 20, 40, 60, 80, 100, 120], "offset": -49, "domain": false, "ticks": false, "grid": false, "labelPadding": 12, "labelFont": "Lato", "labelFontSize": 11.5, "labelColor": "#595959", "labelFlush": false, "title": "Number of referrals", "titleFont": "Lato", "titleFontSize": 11.5, "titleFontWeight": "normal", "titleColor": "#595959", "titlePadding": 5}},
            "strokeWidth": {"field": "series", "type": "ordinal", "scale": {"domain": ["Community Clinic", "Maternity Hospital", "Maternity Hub"], "range": [1.3, 1.5, 1.8]}, "legend": null},
            "strokeDash": {"field": "series", "type": "nominal", "scale": {"domain": ["Community Clinic", "Maternity Hospital", "Maternity Hub"], "range": [[1.5, 2], [6, 5], [1, 0]]},
              "legend": {"orient": "none", "legendX": 545, "legendY": 7.4, "title": null, "symbolType": "M-2.5,0H-0.53M0.53,0H2.5M0.53,0A0.53,0.53,0,1,1,-0.53,0A0.53,0.53,0,1,1,0.53,0Z", "symbolSize": 174, "symbolStrokeColor": "black", "symbolStrokeWidth": 1.8, "rowPadding": 9, "labelOffset": 12, "labelFont": "Lato", "labelFontSize": 11.5, "labelColor": "#404040", "padding": 0}}
          }
        },
        {
          "data": {"name": "setting", "format": {"parse": {"date": "date"}}},
          "mark": {"type": "point", "shape": "circle", "filled": true, "size": 36, "stroke": "black", "strokeWidth": 1, "opacity": 1},
          "encoding": {
            "x": {"field": "date", "type": "temporal", "scale": {"type": "utc", "domain": [{"year": 2013, "month": 9, "date": 11, "utc": true}, {"year": 2018, "month": 8, "date": 19, "utc": true}], "nice": false},
              "axis": {"values": [{"year": 2014, "month": 3, "date": 1, "utc": true}, {"year": 2014, "month": 6, "date": 1, "utc": true}, {"year": 2014, "month": 9, "date": 1, "utc": true}, {"year": 2014, "month": 12, "date": 1, "utc": true}, {"year": 2015, "month": 3, "date": 1, "utc": true}, {"year": 2015, "month": 6, "date": 1, "utc": true}, {"year": 2015, "month": 9, "date": 1, "utc": true}, {"year": 2015, "month": 12, "date": 1, "utc": true}, {"year": 2016, "month": 3, "date": 1, "utc": true}, {"year": 2016, "month": 6, "date": 1, "utc": true}, {"year": 2016, "month": 9, "date": 1, "utc": true}, {"year": 2016, "month": 12, "date": 1, "utc": true}, {"year": 2017, "month": 3, "date": 1, "utc": true}, {"year": 2017, "month": 6, "date": 1, "utc": true}, {"year": 2017, "month": 9, "date": 1, "utc": true}, {"year": 2017, "month": 12, "date": 1, "utc": true}, {"year": 2018, "month": 3, "date": 1, "utc": true}, {"year": 2018, "month": 6, "date": 1, "utc": true}], "labelExpr": "utcFormat(datum.value, '%b-%y')", "labelAngle": 270, "labelPadding": 4, "domain": false, "ticks": false, "grid": false, "title": null, "labelFont": "Lato", "labelFontSize": 10.5, "labelColor": "#404040", "labelFlush": false, "labelOverlap": false}},
            "y": {"field": "value", "type": "quantitative", "scale": {"domain": [0, 120], "nice": false, "zero": false},
              "axis": {"values": [0, 20, 40, 60, 80, 100, 120], "offset": -49, "domain": false, "ticks": false, "grid": false, "labelPadding": 12, "labelFont": "Lato", "labelFontSize": 11.5, "labelColor": "#595959", "labelFlush": false, "title": "Number of referrals", "titleFont": "Lato", "titleFontSize": 11.5, "titleFontWeight": "normal", "titleColor": "#595959", "titlePadding": 5}},
            "fill": {"field": "series", "type": "nominal", "scale": {"domain": ["Community Clinic", "Maternity Hospital", "Maternity Hub"], "range": ["black", "white", "black"]},
              "legend": {"orient": "none", "legendX": 545, "legendY": 7.4, "title": null, "symbolType": "M-2.5,0H-0.53M0.53,0H2.5M0.53,0A0.53,0.53,0,1,1,-0.53,0A0.53,0.53,0,1,1,0.53,0Z", "symbolSize": 174, "symbolStrokeColor": "black", "symbolStrokeWidth": 1.8, "rowPadding": 9, "labelOffset": 12, "labelFont": "Lato", "labelFontSize": 11.5, "labelColor": "#404040", "padding": 0}}
          }
        }
      ]
    }
  ]
}
